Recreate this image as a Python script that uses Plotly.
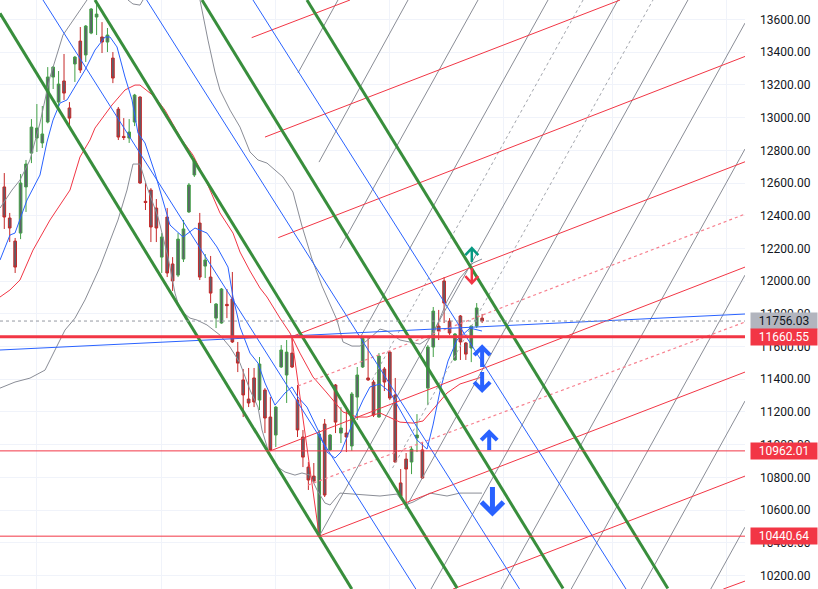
import plotly.graph_objects as go

# ---------------- data ----------------
bars = list(range(89))
opens = [12576, 12386, 12245, 12294, 12576, 12783, 12875, 12845, 12973, 13248,
         13095, 13224, 13059, 13328, 13468, 13383, 13517, 13615, 13493, 13462,
         13364, 13052, 12885, 12875, 12973, 13126, 12488, 12557, 12447, 12147,
         12392, 12105, 12037, 12135, 12423, 12649, 12355, 12092, 12025, 11774,
         11744, 11858, 11891, 11566, 11396, 11279, 11408, 11273, 11334, 11169,
         11059, 11475, 11426, 11560, 11273, 11047, 10863, 10808, 10445, 11126,
         10968, 11365, 11071, 11071, 10992, 11291, 11475, 11408, 11383, 11169,
         11463, 11566, 11304, 10766, 10912, 10894, 11041, 10968, 11346, 11597,
         11725, 12001, 11756, 11518, 11787, 11622, 11591, 11725, 11774]
highs = [12661, 12417, 12264, 12655, 12741, 12991, 13083, 13071, 13309, 13315,
         13285, 13389, 13095, 13377, 13554, 13566, 13670, 13715, 13584, 13548,
         13401, 13065, 12997, 12991, 13145, 13130, 12600, 12569, 12502, 12294,
         12447, 12147, 12294, 12374, 12600, 12753, 12417, 12166, 12154, 11866,
         11958, 11952, 12056, 11628, 11463, 11469, 11469, 11536, 11346, 11291,
         11236, 11609, 11640, 11660.55, 11365, 11090, 10894, 10888, 11090, 11157,
         11065, 11371, 11230, 11224, 11322, 11475, 11665, 11652, 11396, 11560,
         11475, 11572, 11408, 10851, 10949, 10992, 11187, 11010, 11609, 11842,
         11824, 12025, 11774, 11683, 11793, 11628, 11732, 11866, 11799]
lows = [12319, 12239, 12050, 12257, 12423, 12722, 12790, 12814, 12965, 13175,
        13059, 13108, 12948, 13218, 13273, 13340, 13510, 13505, 13395, 13401,
        13211, 12863, 12863, 12845, 12948, 12595, 12435, 12239, 12239, 12050,
        12025, 11940, 12025, 12117, 12417, 12637, 12007, 12019, 11866, 11713,
        11740, 11774, 11622, 11444, 11169, 11230, 11230, 11212, 11071, 10962.01,
        10986, 11469, 11255, 11469, 11047, 10863, 10723, 10766, 10440.64, 10680,
        10962, 11071, 11010, 10955, 10962, 11151, 11469, 11390, 11169, 11165,
        11328, 11273, 10890, 10680, 10631, 10820, 10955, 10790, 11242, 11536,
        11640, 11744, 11671, 11512, 11518, 11518, 11505, 11713, 11744]
closes = [12392, 12325, 12086, 12600, 12716, 12942, 12936, 12900, 13248, 13309,
          13205, 13150, 12997, 13370, 13291, 13560, 13664, 13633, 13462, 13505,
          13242, 12881, 12878, 12912, 13138, 12600, 12481, 12331, 12325, 12270,
          12050, 12001, 12257, 12319, 12588, 12735, 12025, 12129, 11927, 11860,
          11952, 11850, 11628, 11499, 11304, 11255, 11261, 11493, 11163, 10968,
          11230, 11579, 11566, 11475, 11090, 10924, 10784, 10778, 11065, 10692,
          11059, 11138, 11102, 11047, 11310, 11426, 11650, 11396, 11181, 11542,
          11383, 11285, 10894, 10686, 10851, 10973, 11059, 10796, 11597, 11817,
          11695, 11866, 11683, 11677, 11628, 11554, 11725, 11836, 11756.03]

# Bollinger bands / moving averages read at sample points (bar, price)
bb_upper_bar = [-0.79, 1.42, 2.89, 4.73, 6.57, 8.42, 10.81, 13.39, 14.86, 16.7, 19.47, 21.68,
                22.78, 23.7, 24.99, 25.54, 27.75, 31.44, 35.12, 36.04, 37.51, 38.8, 39.72,
                41.57, 43.41, 45.25, 46.72, 48.38, 51.32, 53.16, 54.82, 56.67, 58.51, 61.27,
                62.38, 64.03, 65.51, 67.35, 69.19, 70.48, 72.87, 76.56, 78.95, 81.53, 83.92,
                86.31, 87.97]
bb_upper_val = [12447, 12557, 12618, 12741, 12967, 13248, 13505, 13627, 13701, 13792, 13841, 13780,
                13719, 13695, 13688, 13719, 13841, 13872, 13750, 13719, 13474, 13279, 13169,
                13046, 12942, 12790, 12741, 12722, 12637, 12545, 12337, 12135, 11970, 11762,
                11628, 11603, 11603, 11652, 11707, 11695, 11640, 11615, 11670, 11878, 12019,
                12111, 12135]
bb_lower_bar = [-0.79, 1.97, 4.73, 7.5, 9.34, 11.18, 13.02, 14.86, 17.62, 20.94, 22.6, 23.7,
                24.99, 26.28, 28.31, 30.15, 31.44, 32.36, 34.2, 35.49, 37.33, 39.72, 41.57,
                43.41, 45.25, 46.72, 47.46, 48.56, 49.85, 51.69, 53.53, 54.82, 56.3, 57.59,
                59.06, 60.0, 61.82, 64.95, 69.19, 72.32, 73.79, 75.27, 78.4, 81.53, 83.92, 87.97]
bb_lower_val = [11346, 11383, 11407, 11456, 11579, 11701, 11774, 11885, 12086, 12374, 12557, 12716,
                12716, 12576, 12392, 12147, 11927, 11823, 11774, 11762, 11732, 11670, 11597,
                11499, 11334, 11230, 11090, 10968, 10875, 10833, 10814, 10827, 10814, 10723,
                10643, 10631, 10704, 10698, 10686, 10698, 10631, 10649, 10704, 10686, 10704, 10704]
ma_red_bar = [-0.79, 1.05, 2.89, 5.29, 8.42, 12.1, 13.94, 15.78, 16.7, 19.83, 22.23, 24.07,
              24.99, 27.75, 29.59, 31.44, 32.73, 34.75, 37.33, 39.72, 42.12, 43.41, 45.25,
              47.09, 48.38, 50.77, 52.61, 54.45, 56.85, 59.43, 62.38, 64.95, 66.8, 69.19,
              72.87, 75.27, 77.11, 79.32, 81.53, 83.92, 86.31, 87.97]
ma_red_val = [11903, 11946, 12007, 12190, 12374, 12557, 12759, 12863, 12936, 13077, 13169, 13199,
              13199, 13126, 13046, 12936, 12863, 12771, 12600, 12417, 12294, 12178, 12062,
              11958, 11903, 11774, 11683, 11560, 11414, 11316, 11200, 11169, 11169, 11194,
              11138, 11132, 11145, 11230, 11316, 11371, 11395, 11414]
ma_blue_bar = [-0.79, 1.05, 1.97, 4.18, 6.57, 7.86, 8.97, 10.26, 11.55, 13.39, 14.86, 16.7,
               18.55, 19.47, 20.76, 22.23, 23.52, 24.62, 25.91, 27.75, 29.04, 30.52, 32.91,
               35.12, 37.33, 39.17, 41.2, 42.12, 43.41, 45.25, 46.72, 48.01, 49.85, 51.69,
               52.98, 54.08, 55.74, 57.77, 59.43, 60.9, 62.01, 64.22, 66.06, 67.35, 69.19,
               71.03, 73.42, 76.0, 77.85, 78.95, 80.24, 81.71, 83.37, 85.76, 87.97]
ma_blue_val = [12129, 12282, 12294, 12496, 12649, 12851, 12985, 13089, 13108, 13211, 13291, 13413,
               13493, 13493, 13432, 13248, 13108, 12906, 12845, 12661, 12514, 12343, 12270,
               12325, 12294, 12209, 12086, 11903, 11719, 11560, 11499, 11377, 11242, 11316,
               11353, 11291, 11230, 11090, 10955, 10918, 10955, 11138, 11273, 11353, 11371,
               11322, 11181, 11029, 10973, 11120, 11328, 11511, 11640, 11713, 11695]

# drawn trend lines: (bar0, price0, bar1, price1)
green_lines = [(-0.79, 13638, 64.0, 10117), (16.7, 13719, 83.4, 10123),
               (36.41, 13719, 102.9, 10121), (55.74, 13719, 122.2, 10121)]
blue_lines = [(7.13, 13719, 75.8, 10117), (26.22, 13719, 94.9, 10117),
              (45.8, 13719, 114.5, 10117), (-0.79, 11579, 136.41, 11799)]
red_lines = [(45.56, 13489, 63.66, 13719), (48.01, 12881, 113.4, 13719),
             (50.46, 12266, 136.41, 13374), (52.93, 11660.55, 136.41, 12730),
             (49.0, 10962.01, 136.41, 12086), (58.0, 10440.64, 136.41, 11444),
             (82.63, 10117, 136.41, 10808), (132.4, 10117, 136.41, 10166),
             (52.93, 11660.55, 58.0, 10440.64)]
red_dotted = [(54.09, 11359, 136.41, 12410), (55.93, 10753, 136.41, 11750)]
gray_lines = [(54.09, 13273, 61.45, 13719), (57.96, 12728, 74.35, 13719),
              (61.82, 12202, 87.24, 13719), (65.69, 11664, 100.13, 13719),
              (58.0, 10440.64, 113.02, 13719), (73.79, 10606, 125.9, 13719),
              (78.58, 10117, 136.41, 13578), (91.47, 10117, 136.41, 12808),
              (104.4, 10117, 136.41, 12037), (117.3, 10117, 136.41, 11267),
              (130.1, 10117, 136.41, 10496)]
gray_dotted = [(67.72, 11395, 106.58, 13719), (71.49, 10857, 119.46, 13719)]

level_thick = 11660.55
levels_thin = [10962.01, 10440.64]
last_price = 11756.03

# arrow marks: (bar, tip price, tail price)
arrows = [(86.1, 12202, 12117), (86.1, 11988, 12080),
          (88.0, 11597, 11475), (88.0, 11334, 11444),
          (89.3, 11077, 10967), (89.9, 10582, 10741)]

price_ticks = list(range(10200, 13601, 200))
month_bars = [6, 29, 50, 71, 92, 112, 133]

# ---------------- styling ----------------
X_RANGE = [-0.79, 136.41]
Y_RANGE = [10117.5, 13719.2]
PX_PER_BAR = 5.43
PRICE_PER_PX = 6.115
# per arrow: colour, half width px, head height px, stroke width
arrow_styles = [('#089981', 6.5, 7, 2.5), ('#f23645', 6.5, 7, 2.5),
                ('#2962ff', 8, 8, 4), ('#2962ff', 8, 8, 4),
                ('#2962ff', 8, 8, 4), ('#2962ff', 11, 11, 5)]

fig = go.Figure()
fig.add_trace(go.Candlestick(
    x=bars, open=opens, high=highs, low=lows, close=closes,
    increasing=dict(line=dict(color='#43a047', width=1), fillcolor='#5d606b'),
    decreasing=dict(line=dict(color='#c62828', width=1), fillcolor='#5d606b'),
    whiskerwidth=0, showlegend=False, hoverinfo='skip'))

for bx, by, col in [(bb_upper_bar, bb_upper_val, '#8a8d96'), (bb_lower_bar, bb_lower_val, '#8a8d96'),
                    (ma_red_bar, ma_red_val, '#f23645'), (ma_blue_bar, ma_blue_val, '#2962ff')]:
    fig.add_trace(go.Scatter(x=bx, y=by, mode='lines', line=dict(color=col, width=1),
                             showlegend=False, hoverinfo='skip'))

shapes = []
def seg(l, color, width, dash='solid'):
    shapes.append(dict(type='line', xref='x', yref='y', x0=l[0], y0=l[1], x1=l[2], y1=l[3],
                       line=dict(color=color, width=width, dash=dash), layer='above'))

for l in gray_lines:
    seg(l, '#8a8d96', 1)
for l in gray_dotted:
    seg(l, '#a3a6ad', 1, 'dot')
for l in red_lines:
    seg(l, '#f23645', 1)
for l in red_dotted:
    seg(l, '#f7818f', 1.2, 'dot')
for l in blue_lines:
    seg(l, '#2962ff', 1)
for l in green_lines:
    seg(l, '#388e3c', 3)

shapes.append(dict(type='line', xref='paper', yref='y', x0=0, x1=1, y0=last_price, y1=last_price,
                   line=dict(color='#9598a1', width=1, dash='dot'), layer='above'))
shapes.append(dict(type='line', xref='paper', yref='y', x0=0, x1=1, y0=level_thick, y1=level_thick,
                   line=dict(color='#f23645', width=3), layer='above'))
for lv in levels_thin:
    shapes.append(dict(type='line', xref='paper', yref='y', x0=0, x1=1, y0=lv, y1=lv,
                       line=dict(color='#f23645', width=1), layer='above'))

# arrows drawn as shaft + chevron
for (b, tip, tail), (col, hwp, hhp, lw) in zip(arrows, arrow_styles):
    hw = hwp / PX_PER_BAR
    hh = hhp * PRICE_PER_PX
    sign = 1 if tip > tail else -1
    path = (f'M {b - hw},{tip - sign * hh} L {b},{tip} L {b + hw},{tip - sign * hh} '
            f'M {b},{tip} L {b},{tail}')
    shapes.append(dict(type='path', xref='x', yref='y', path=path,
                       line=dict(color=col, width=lw), layer='above'))

annotations = []
for val, bg, fg in [(last_price, '#b2b5be', '#131722'), (level_thick, '#f23645', '#ffffff'),
                    (levels_thin[0], '#f23645', '#ffffff'), (levels_thin[1], '#f23645', '#ffffff')]:
    annotations.append(dict(x=1, xref='paper', xanchor='left', xshift=5, y=val, yref='y',
                            yanchor='middle', text=f'{val:.2f}', showarrow=False, bgcolor=bg,
                            font=dict(color=fg, size=12, family='Roboto'), width=64, height=14,
                            borderpad=1))

fig.update_layout(
    width=818, height=589, margin=dict(l=0, r=73, t=0, b=0),
    paper_bgcolor='white', plot_bgcolor='white', showlegend=False,
    shapes=shapes, annotations=annotations,
    xaxis=dict(range=X_RANGE, showticklabels=False, tickvals=month_bars, showgrid=True,
               gridcolor='#f0f3fa', zeroline=False, rangeslider=dict(visible=False),
               showline=False, ticks=''),
    yaxis=dict(side='right', range=Y_RANGE, tickvals=price_ticks,
               ticktext=[f'{v:.2f}' for v in price_ticks], showgrid=True, gridcolor='#f0f3fa',
               zeroline=False, ticks='', ticklabelstandoff=14, showline=False,
               tickfont=dict(family='Roboto', size=12, color='#131722')),
)

fig.write_html('out.html', config={'displayModeBar': False},
               post_script="document.body.style.margin='0';")
